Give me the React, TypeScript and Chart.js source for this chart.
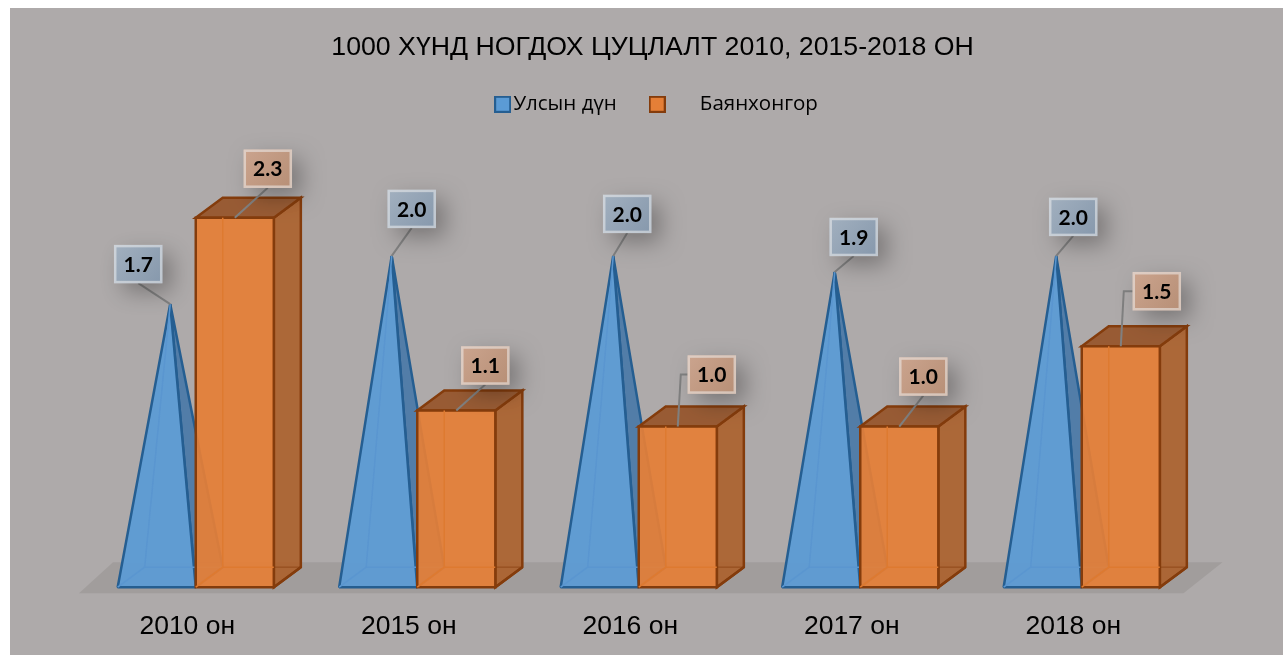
import React, { useEffect, useRef } from "react";
import { Chart, registerables } from "chart.js";

Chart.register(...registerables);

const titleText = "1000 ХҮНД НОГДОХ ЦУЦЛАЛТ 2010, 2015-2018 ОН  ";
const categories = ["2010 он", "2015 он", "2016 он", "2017 он", "2018 он"];
const seriesNames = ["Улсын дүн", "      Баянхонгор"];
const national = [1.7, 2.0, 2.0, 1.9, 2.0];
const bayankhongor = [2.3, 1.1, 1.0, 1.0, 1.5];

const DEPTH_X = 27;
const DEPTH_Y = 20;
const LABEL_W = 48;
const LABEL_H = 38;
// Label-box centre, relative to the point its leader line ends at
const nationalLabelOffset = [[-32, -40], [20, -47], [14, -42], [19, -35], [17, -39]];
const bayanLabelOffset = [[33, -49], [29, -45], [34, -52], [24, -50], [36, -55]];
const bayanElbow = [false, false, true, false, true];

const BLUE = { fill: "rgba(91,155,213,0.94)", side: "rgba(74,122,168,0.92)", line: "#255E91", inner: "#5A96D0" };
const ORANGE = { fill: "rgba(229,127,55,0.93)", side: "rgba(172,94,40,0.88)", top: "rgba(150,85,42,0.92)", line: "#843C0C", inner: "#DE7A30" };

function swatch(fill: string, line: string) {
  const c = document.createElement("canvas");
  c.width = 17;
  c.height = 17;
  const g = c.getContext("2d")!;
  g.fillStyle = fill;
  g.fillRect(1, 1, 15, 15);
  g.strokeStyle = line;
  g.lineWidth = 2;
  g.strokeRect(1, 1, 15, 15);
  return c;
}

function poly(ctx: CanvasRenderingContext2D, pts: number[][], fill?: string, stroke?: string, width = 2) {
  ctx.beginPath();
  pts.forEach((p, i) => (i ? ctx.lineTo(p[0], p[1]) : ctx.moveTo(p[0], p[1])));
  ctx.closePath();
  if (fill) {
    ctx.fillStyle = fill;
    ctx.fill();
  }
  if (stroke) {
    ctx.strokeStyle = stroke;
    ctx.lineWidth = width;
    ctx.stroke();
  }
}

function seg(ctx: CanvasRenderingContext2D, pts: number[][], stroke: string, width: number) {
  ctx.beginPath();
  pts.forEach((p, i) => (i ? ctx.lineTo(p[0], p[1]) : ctx.moveTo(p[0], p[1])));
  ctx.strokeStyle = stroke;
  ctx.lineWidth = width;
  ctx.stroke();
}

function drawPyramid(ctx: CanvasRenderingContext2D, el: any) {
  const l = el.x - el.width / 2;
  const r = el.x + el.width / 2;
  const b = el.base;
  const apex = [el.x + DEPTH_X / 2, el.y - DEPTH_Y / 2];
  const bl = [l + DEPTH_X, b - DEPTH_Y];
  const br = [r + DEPTH_X, b - DEPTH_Y];
  ctx.save();
  ctx.lineJoin = "bevel";
  poly(ctx, [[r, b], br, apex], BLUE.side, BLUE.line, 2.5);
  poly(ctx, [[l, b], [r, b], apex], BLUE.fill, BLUE.line, 2.5);
  seg(ctx, [[l, b], bl, br], BLUE.inner, 1.5);
  seg(ctx, [bl, apex], BLUE.inner, 1.5);
  ctx.restore();
}

function drawBox(ctx: CanvasRenderingContext2D, el: any) {
  const l = el.x - el.width / 2;
  const r = el.x + el.width / 2;
  const t = el.y;
  const b = el.base;
  const dx = DEPTH_X;
  const dy = DEPTH_Y;
  poly(ctx, [[r, t], [r + dx, t - dy], [r + dx, b - dy], [r, b]], ORANGE.side, ORANGE.line, 2.5);
  poly(ctx, [[l, t], [l + dx, t - dy], [r + dx, t - dy], [r, t]], ORANGE.top, ORANGE.line, 2.5);
  poly(ctx, [[l, t], [r, t], [r, b], [l, b]], ORANGE.fill, ORANGE.line, 2.5);
  seg(ctx, [[l + dx, t], [l + dx, b - dy], [r, b - dy]], ORANGE.inner, 1.5);
  seg(ctx, [[l, b], [l + dx, b - dy]], ORANGE.inner, 1.5);
  seg(ctx, [[r, b - dy], [r + dx, b - dy]], "rgba(132,60,12,0.45)", 1.5);
  seg(ctx, [[r, b], [r + dx, b - dy]], ORANGE.line, 2.5);
}

function drawLabel(
  ctx: CanvasRenderingContext2D,
  text: string,
  anchor: number[],
  off: number[],
  elbow: boolean,
  c1: string,
  c2: string
) {
  const cx = anchor[0] + off[0];
  const cy = anchor[1] + off[1];
  const x = cx - LABEL_W / 2;
  const y = cy - LABEL_H / 2;
  if (elbow) {
    seg(ctx, [[x, cy], [anchor[0] + 3, cy], anchor], "#808080", 2);
  } else {
    seg(ctx, [[cx, y + LABEL_H], anchor], "#808080", 2);
  }
  ctx.save();
  ctx.shadowColor = "rgba(0,0,0,0.3)";
  ctx.shadowBlur = 22;
  ctx.shadowOffsetX = 9;
  ctx.shadowOffsetY = 9;
  ctx.fillStyle = c1;
  ctx.fillRect(x, y, LABEL_W, LABEL_H);
  ctx.restore();
  const g = ctx.createLinearGradient(x, y, x + LABEL_W, y + LABEL_H);
  g.addColorStop(0, c1);
  g.addColorStop(1, c2);
  ctx.fillStyle = g;
  ctx.fillRect(x, y, LABEL_W, LABEL_H);
  ctx.strokeStyle = "rgba(238,238,238,0.55)";
  ctx.lineWidth = 2.5;
  ctx.strokeRect(x + 1, y + 1, LABEL_W - 2, LABEL_H - 2);
  ctx.fillStyle = "#000";
  ctx.font = "bold 21px Lato";
  ctx.textAlign = "center";
  ctx.textBaseline = "middle";
  ctx.fillText(text, cx, cy + 1);
}

const scene = {
  id: "scene3d",
  beforeDatasetsDraw(chart: any) {
    const ctx: CanvasRenderingContext2D = chart.ctx;
    const xs = chart.scales.x;
    const base = chart.scales.y.getPixelForValue(0);
    ctx.save();
    poly(
      ctx,
      [
        [xs.left - 6, base + 6],
        [xs.left + 28, base - 25],
        [xs.right + 30, base - 25],
        [xs.right - 9, base + 6],
      ],
      "#A19D9C"
    );
    const m0 = chart.getDatasetMeta(0).data;
    const m1 = chart.getDatasetMeta(1).data;
    categories.forEach((_, i) => {
      drawPyramid(ctx, m0[i]);
      drawBox(ctx, m1[i]);
    });
    categories.forEach((_, i) => {
      const apex = [m0[i].x + DEPTH_X / 2, m0[i].y - DEPTH_Y / 2];
      drawLabel(ctx, national[i].toFixed(1), apex, nationalLabelOffset[i], false, "#A2B0BF", "#8698AC");
      const top = [m1[i].x, m1[i].y];
      drawLabel(ctx, bayankhongor[i].toFixed(1), top, bayanLabelOffset[i], bayanElbow[i], "#CBA48E", "#B78F76");
    });
    ctx.restore();
    return false;
  },
};

export default function App() {
  const ref = useRef<HTMLCanvasElement>(null);
  useEffect(() => {
    const swatches = [swatch("#5B9BD5", "#255E91"), swatch("#E57F37", "#843C0C")];
    const chart = new Chart(ref.current!, {
      type: "bar",
      data: {
        labels: categories,
        datasets: [
          { label: seriesNames[0], data: national, backgroundColor: "#5B9BD5", borderColor: "#255E91", categoryPercentage: 0.705, barPercentage: 1, yAxisID: "y" },
          { label: seriesNames[1], data: bayankhongor, backgroundColor: "#E57F37", borderColor: "#843C0C", categoryPercentage: 0.705, barPercentage: 1, yAxisID: "y" },
        ],
      },
      options: {
        responsive: false,
        animation: false,
        layout: { padding: { left: 27, right: 0, top: 14, bottom: -3 } },
        plugins: {
          title: {
            display: true,
            text: titleText,
            color: "#000",
            font: { family: "'Liberation Sans'", size: 26.7, weight: "normal" },
            padding: { top: 10, bottom: -10 },
          },
          legend: {
            display: true,
            position: "top",
            labels: {
              color: "#000",
              font: { family: "'Open Sans'", size: 20.5 },
              boxWidth: 1,
              boxHeight: 10,
              usePointStyle: true,
              pointStyleWidth: 1,
              padding: 40,
              generateLabels: () =>
                seriesNames.map((n, i) => ({
                  text: n,
                  pointStyle: swatches[i],
                  datasetIndex: i,
                  fontColor: "#000",
                  hidden: false,
                })),
            },
          },
          tooltip: { enabled: false },
        },
        scales: {
          x: {
            grid: { display: false },
            border: { display: false },
            ticks: {
              color: "#000",
              font: { family: "'Liberation Sans'", size: 26.5 },
              labelOffset: -8.5,
              padding: 15.5,
              maxRotation: 0,
              autoSkip: false,
            },
          },
          y: {
            min: 0,
            max: 2.88,
            position: "left",
            grid: { display: false },
            border: { display: false },
            ticks: { display: false },
            afterFit: (a: any) => {
              a.width = 48;
            },
          },
          y1: {
            display: true,
            position: "right",
            grid: { display: false },
            border: { display: false },
            ticks: { display: false },
            afterFit: (a: any) => {
              a.width = 90.5;
            },
          },
        },
      },
      plugins: [scene],
    } as any);
    return () => chart.destroy();
  }, []);
  return (
    <div style={{ position: "fixed", left: 10, top: 8, width: 1273, height: 647, background: "#AEAAAA" }}>
      <canvas ref={ref} width={1273} height={647} style={{ display: "block" }} />
    </div>
  );
}
